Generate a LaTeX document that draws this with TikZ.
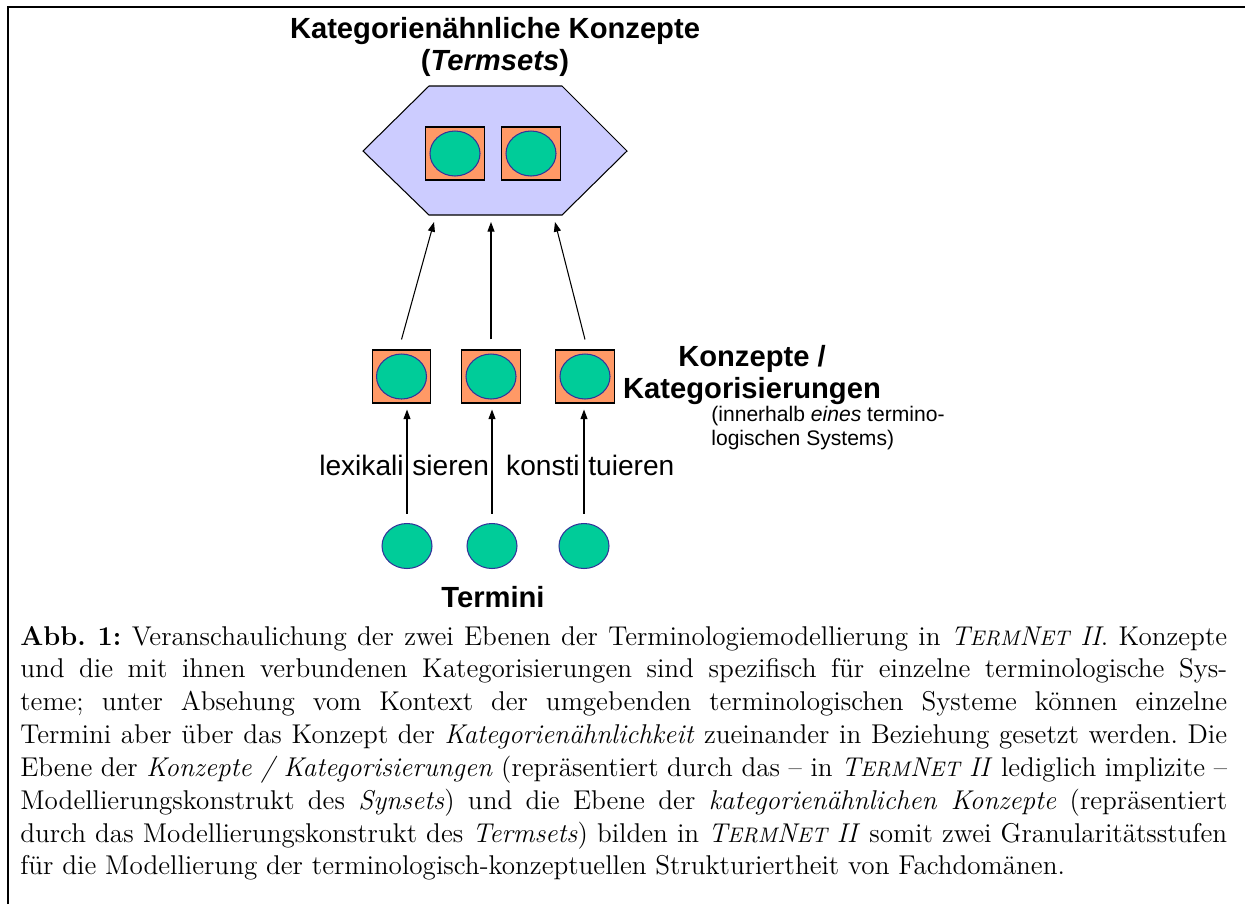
\documentclass[tikz,border=0pt]{standalone}
\usepackage{fontspec}
\usepackage{graphicx}
\newfontfamily\arialfont{Liberation Sans}
\usetikzlibrary{shapes.geometric,arrows.meta,calc}
\definecolor{hexfill}{HTML}{CCCCFF}
\definecolor{boxfill}{HTML}{FF9966}
\definecolor{dotfill}{HTML}{00CC99}
\definecolor{dotline}{HTML}{333399}
\newcommand\termnet{\textit{T{\fontsize{9.3}{9.3}\selectfont ERM}N{\fontsize{9.3}{9.3}\selectfont ET} II}}

\begin{document}
\begin{tikzpicture}[x=0.02cm,y=-0.02cm,
		conceptbox/.style={draw,fill=boxfill,line width=0.6pt,minimum width=1.17cm,minimum height=1.06cm,inner sep=0pt},
		term/.style={ellipse,draw=dotline,fill=dotfill,line width=0.6pt,minimum width=1cm,minimum height=0.9cm,inner sep=0pt},
		lbl/.style={font=\arialfont\bfseries\fontsize{16.6}{18.5}\selectfont,align=center},
		verb/.style={font=\arialfont\fontsize{16}{18}\selectfont,inner sep=0pt},
		link/.style={-{Triangle[length=5.5pt,width=4pt]},line width=0.6pt}]
		\useasboundingbox (0,0) rectangle (1245,904);
		\draw[line width=1.3pt] (8,904) -- (8,7) -- (1245,7);

		\node[lbl] (title) at (495,47) {Kategorienähnliche Konzepte\\(\textit{Termsets})};
		\draw[fill=hexfill,line width=0.6pt] (363,151) -- (429,86) -- (562,86) -- (627,151) -- (562,215) -- (429,215) -- cycle;
		\node[conceptbox] (ts1) at (455,153.5) {};
		\node[conceptbox] (ts2) at (531,153.5) {};
		\node[term] (tsd1) at (ts1) {};
		\node[term] (tsd2) at (ts2) {};
		\coordinate (h1) at (434,222);
		\coordinate (h2) at (491,222);
		\coordinate (h3) at (555,222);

		\node[conceptbox] (k1) at (401.5,376.5) {};
		\node[conceptbox] (k2) at (491,376.5) {};
		\node[conceptbox] (k3) at (585,376.5) {};
		\node[term] (kd1) at (k1) {};
		\node[term] (kd2) at (k2) {};
		\node[term] (kd3) at (k3) {};
		\draw[link] ($(k1.north)+(0,-10)$) -- (h1);
		\draw[link] ($(k2.north)+(0,-10)$) -- (h2);
		\draw[link] ($(k3.north)+(0,-10)$) -- (h3);
		\node[lbl] (kname) at (752,375) {Konzepte /\\Kategorisierungen};
		\node[font=\arialfont\fontsize{12}{13.6}\selectfont,align=left,anchor=west,inner sep=0pt] (knote) at (711,428) {(innerhalb \textit{eines} termino-\\logischen Systems)};

		\node[term] (t1) at (407,546) {};
		\node[term] (t2) at (492,546) {};
		\node[term] (t3) at (584,546) {};
		\draw[link] ($(t1.north)+(0,-9)$) -- ($(t1.north |- k1.south)+(0,6)$);
		\draw[link] ($(t2.north)+(0,-9)$) -- ($(t2.north |- k2.south)+(0,6)$);
		\draw[link] ($(t3.north)+(0,-9)$) -- ($(t3.north |- k3.south)+(0,6)$);
		\node[verb,anchor=base east] (lex1) at (404,475) {lexikali};
		\node[verb,anchor=base west] (lex2) at (412,475) {sieren};
		\node[verb,anchor=base east] (kon1) at (580,475) {konsti};
		\node[verb,anchor=base west] (kon2) at (588,475) {tuieren};
		\node[lbl,anchor=base] (tname) at (493,607) {Termini};

		\node[anchor=base west,inner sep=0pt] (caption) at (20,645) {\scalebox{1.2875}{\parbox[t]{18.75cm}{\fontsize{12}{14.52}\selectfont\frenchspacing\tolerance=10000\hyphenpenalty=10000\exhyphenpenalty=10000
			\textbf{Abb. 1:} Veranschaulichung der zwei Ebenen der Terminologiemodellierung in \termnet. Konzepte\linebreak
			und die mit ihnen verbundenen Kategorisierungen sind spezifisch für einzelne terminologische Sys-\linebreak
			teme; unter Absehung vom Kontext der umgebenden terminologischen Systeme können einzelne\linebreak
			Termini aber über das Konzept der \textit{Kategorienähnlichkeit} zueinander in Beziehung gesetzt werden. Die\linebreak
			Ebene der \textit{Konzepte / Kategorisierungen} (repräsentiert durch das – in \termnet\ lediglich implizite –\linebreak
			Modellierungskonstrukt des \textit{Synsets}) und die Ebene der \textit{kategorienähnlichen Konzepte} (repräsentiert\linebreak
			durch das Modellierungskonstrukt des \textit{Termsets}) bilden in \termnet\ somit zwei Granularitätsstufen\linebreak
			für die Modellierung der terminologisch-konzeptuellen Strukturiertheit von Fachdomänen.}}};
	\end{tikzpicture}
\end{document}
